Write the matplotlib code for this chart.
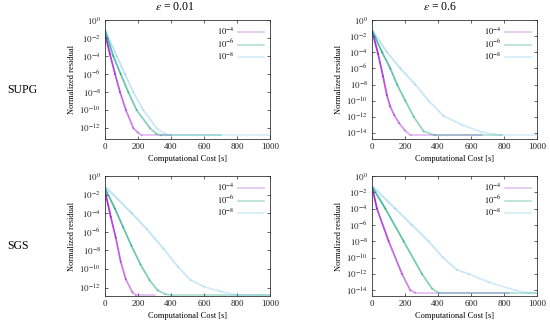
import numpy as np
import matplotlib
matplotlib.use("Agg")
import matplotlib.pyplot as plt
from matplotlib.collections import LineCollection
from matplotlib.lines import Line2D

plt.rcParams['font.family'] = ['Liberation Serif', 'DejaVu Serif']
plt.rcParams['mathtext.fontset'] = 'stix'

# ---- data (x: computational cost [s], y: log10 of normalized residual) ----
col_titles = [r'$\epsilon$ = 0.01', r'$\epsilon$ = 0.6']
row_titles = ['SUPG', 'SGS']
series_labels = [r'$10^{-4}$', r'$10^{-6}$', r'$10^{-8}$']
x_ticks = [0, 200, 400, 600, 800, 1000]

# SUPG, eps = 0.01
supg001_x = [[0, 30, 61, 91, 127, 172, 200, 222, 400],
             [0, 50, 95, 141, 192, 273, 310, 340, 700],
             [0, 71, 121, 172, 232, 313, 360, 400, 1000]]
supg001_e = [[-1.5, -3.8, -6.0, -8.0, -10.0, -12.0, -12.5, -12.8, -12.8],
             [-1.1, -4.0, -6.0, -8.0, -10.0, -12.0, -12.6, -12.8, -12.8],
             [-1.1, -4.0, -6.0, -8.0, -10.0, -12.0, -12.6, -12.8, -12.8]]
# SUPG, eps = 0.6
supg06_x = [[0, 37, 67, 90, 110, 135, 165, 200, 235, 667],
            [0, 61, 111, 152, 202, 253, 313, 384, 790],
            [0, 91, 172, 263, 343, 434, 545, 667, 788, 1000]]
supg06_e = [[-1.3, -4.2, -7.0, -9.3, -10.7, -11.8, -12.8, -13.7, -14.3, -14.3],
            [-1.3, -4.0, -6.0, -8.0, -10.0, -12.0, -13.8, -14.3, -14.3],
            [-1.2, -4.0, -6.0, -8.0, -10.0, -11.9, -13.0, -13.9, -14.3, -14.3]]
# SGS, eps = 0.01
sgs001_x = [[0, 35, 65, 95, 126, 166, 187, 303],
            [0, 60, 110, 160, 215, 270, 320, 365, 400, 1000],
            [0, 162, 253, 354, 444, 520, 600, 700, 800, 1000]]
sgs001_e = [[-1.6, -4.4, -6.6, -9.2, -11.1, -12.5, -12.8, -12.8],
            [-1.3, -3.5, -5.5, -7.5, -9.5, -11.2, -12.3, -12.7, -12.8, -12.8],
            [-1.1, -4.0, -5.7, -7.8, -9.8, -11.2, -11.9, -12.4, -12.8, -12.8]]
# SGS, eps = 0.6
sgs06_x = [[0, 30, 101, 182, 232, 263, 828],
           [0, 81, 192, 303, 364, 404, 1000],
           [0, 141, 242, 343, 430, 515, 586, 707, 869, 950, 1000]]
sgs06_e = [[-1.3, -4.0, -8.0, -12.0, -14.0, -14.3, -14.3],
           [-1.3, -4.0, -8.0, -12.0, -13.8, -14.3, -14.3],
           [-1.2, -4.0, -6.0, -8.0, -10.0, -11.5, -12.0, -13.0, -14.0, -14.3, -14.3]]

panels = [[(supg001_x, supg001_e, -13.2, -12), (supg06_x, supg06_e, -14.75, -14)],
          [(sgs001_x, sgs001_e, -12.9, -12), (sgs06_x, sgs06_e, -14.7, -14)]]

colors = ['#9400d3', '#009e73', '#56b4e9']
legend_colors = ['#e3c4f0', '#b3e0d3', '#d2ecf8']
alpha_ranges = [(0.8, 0.25), (0.7, 0.3), (0.4, 0.22)]

fig = plt.figure(figsize=(5.5, 3.25), dpi=100)

lefts = [105 / 550, 372 / 550]
bottoms = [1 - 139 / 325, 1 - 296 / 325]
w = 165 / 550
heights = [119 / 325, 120 / 325]

for r in range(2):
    for c in range(2):
        xs, es, ylo, ytop_tick = panels[r][c]
        ax = fig.add_axes([lefts[c], bottoms[r], w, heights[r]])
        ax.set_yscale('log')
        ax.set_xlim(0, 1000)
        ax.set_ylim(10 ** ylo, 1.0)
        for k in range(3):
            x = np.array(xs[k], dtype=float)
            y = 10.0 ** np.array(es[k], dtype=float)
            pts = np.column_stack([x, y])
            segs = np.stack([pts[:-1], pts[1:]], axis=1)
            a0, a1 = alpha_ranges[k]
            n = len(segs)
            cols = [matplotlib.colors.to_rgba(colors[k], a0 + (a1 - a0) * i / max(n - 1, 1)) for i in range(n)]
            lc = LineCollection(segs, colors=cols, linewidths=1.3, capstyle='round', joinstyle='round')
            ax.add_collection(lc)
        yt = list(range(0, ytop_tick - 1, -2))
        ax.set_yticks([10.0 ** e for e in yt])
        ax.set_yticklabels([r'$10^{%d}$' % e for e in yt])
        ax.minorticks_off()
        ax.yaxis.set_minor_locator(matplotlib.ticker.NullLocator())
        ax.set_xticks(x_ticks)
        ax.set_xticklabels([str(t) for t in x_ticks])
        ax.tick_params(direction='in', length=2.5, width=0.5, labelsize=6.5,
                       top=True, right=True, pad=3, colors='#222222')
        for s in ax.spines.values():
            s.set_linewidth(0.6)
            s.set_color('#333333')
        ax.set_xlabel('Computational Cost [s]', fontsize=6, labelpad=3)
        ax.set_ylabel('Normalized residual', fontsize=6, labelpad=2)
        handles = [Line2D([0], [0], color=legend_colors[k], lw=1.2) for k in range(3)]
        ax.legend(handles, series_labels, loc='upper right', frameon=False,
                  markerfirst=False, fontsize=6, handlelength=3.2,
                  labelspacing=0.05, handletextpad=0.4, borderaxespad=0.3)

fig.text(175 / 550, 1 - 7 / 325, col_titles[0], ha='center', va='center', fontsize=8.5)
fig.text(440 / 550, 1 - 7 / 325, col_titles[1], ha='center', va='center', fontsize=8.5)
fig.text(22 / 550, 1 - 90 / 325, row_titles[0], ha='center', va='center', fontsize=8.5)
fig.text(18 / 550, 1 - 246 / 325, row_titles[1], ha='center', va='center', fontsize=8.5)

fig.savefig('out.png', dpi=100)
